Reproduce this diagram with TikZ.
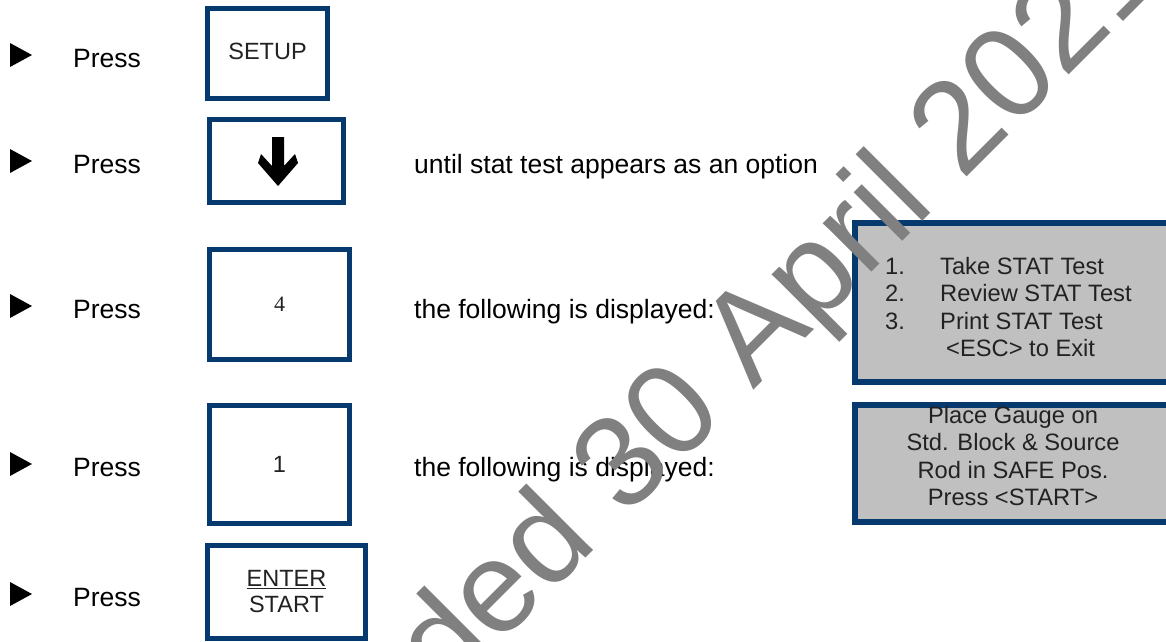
\documentclass[tikz,border=0pt]{standalone}
\usepackage{fontspec}
\setmainfont{Liberation Sans}
\newfontfamily\keyserif{Liberation Serif}
\definecolor{keyNavy}{HTML}{063A6E}
\definecolor{screenGrey}{HTML}{C0C0C0}
\definecolor{stampGrey}{HTML}{808080}
\definecolor{inkDark}{HTML}{222222}
\tikzset{
  keybox/.style={draw=keyNavy, line width=5pt, fill=white, inner sep=0pt,
                 font=\fontsize{23.5}{26}\selectfont, text=inkDark},
  screen/.style={draw=keyNavy, line width=6pt, fill=screenGrey, inner sep=0pt},
  screentext/.style={font=\fontsize{23.7}{27.5}\selectfont, text=inkDark, inner sep=0pt},
  steptext/.style={font=\fontsize{26.5}{30}\selectfont, inner sep=0pt, anchor=base west},
}

\begin{document}
\begin{tikzpicture}[x=1pt, y=-1pt]
\useasboundingbox (0,0) rectangle (1166,641);
\clip (0,0) rectangle (1166,641);
\foreach \b [count=\i] in {67,173,318,476,606} {
  \fill[black] (10,\b-24) -- (32,\b-12) -- (10,\b) -- cycle;
  \node[steptext] (press\i) at (73,\b) {Press};
}
\node[keybox, minimum width=120pt, minimum height=90pt] (setup) at (267.5,53.5) {\raisebox{4pt}{SETUP}};
\node[keybox, minimum width=134pt, minimum height=83pt] (down) at (276.5,161) {};
\fill[black] (272,137) -- (284,137) -- (284,166) -- (295,154) -- (298,163) -- (278,186)
  -- (258,163) -- (261,154) -- (272,166) -- cycle;
\node[keybox, minimum width=140pt, minimum height=110pt, font=\keyserif\fontsize{22}{24}\selectfont] (four) at (279.5,304.5) {4};
\node[keybox, minimum width=140pt, minimum height=118pt] (one) at (279.5,464.5) {1};
\node[keybox, minimum width=158pt, minimum height=93pt, align=center] (enter) at (286.5,592) {\underline{ENTER}\\START};
\node[steptext] (until) at (414,173) {until stat test appears as an option};
\node[steptext] (shown1) at (414,318) {the following is displayed:};
\node[steptext] (shown2) at (414,476) {the following is displayed:};
\node[screen, minimum width=330pt, minimum height=159pt] (statmenu) at (1020,302.5) {};
\node[screentext, anchor=base west] (menutext) at (885,274) {\begin{tabular}[t]{@{}p{55pt}@{}l@{}}
  1.&Take STAT Test\\ 2.&Review STAT Test\\ 3.&Print STAT Test\\ &\hspace{6pt}<ESC> to Exit\end{tabular}};
\node[screen, minimum width=330pt, minimum height=117pt] (gaugemsg) at (1020,463.5) {};
\node[screentext, anchor=base] (gaugetext) at (1013,423) {\begin{tabular}[t]{@{}c@{}}
  Place Gauge on\\ Std. Block \& Source\\ Rod in SAFE Pos.\\ Press <START>\end{tabular}};
\node[rotate=45, anchor=base west, inner sep=0pt, text=stampGrey, font=\fontsize{130}{130}\selectfont] (stamp) at (89,1055) {Downloaded 30 April 2021};
\end{tikzpicture}
\end{document}
